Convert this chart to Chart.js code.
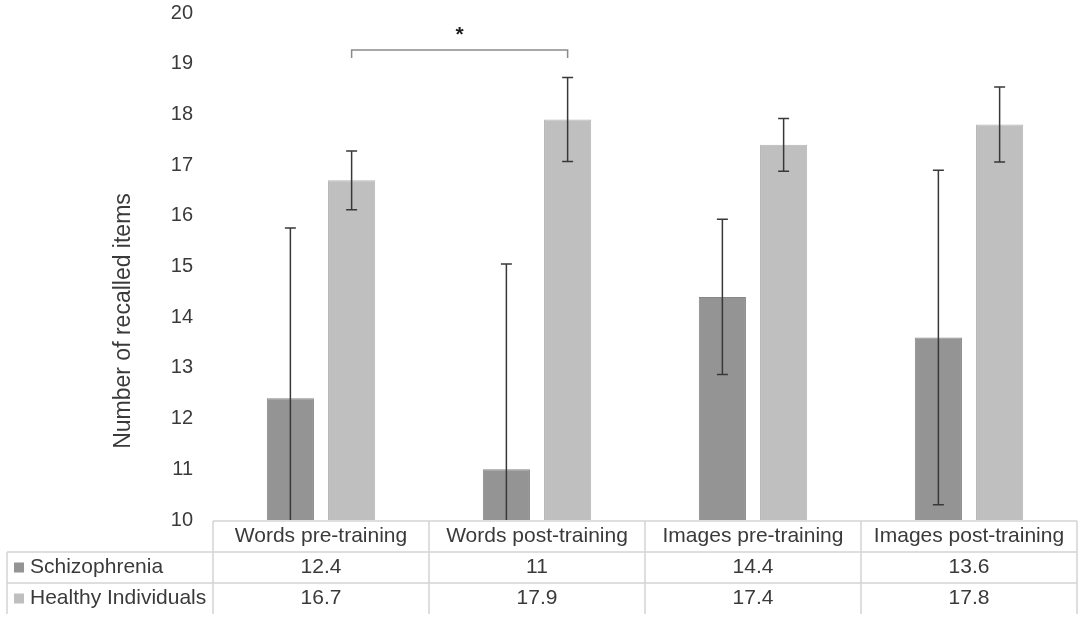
<!DOCTYPE html>
<html>
<head>
<meta charset="utf-8">
<title>Number of recalled items</title>
<script src="https://cdn.jsdelivr.net/npm/chart.js"></script>
<style>
  html, body { margin: 0; padding: 0; background: #fff; }
  #wrap { width: 1084px; height: 623px; }
</style>
</head>
<body>
<div id="wrap"><canvas id="chart" width="1084" height="623"></canvas></div>
<script>
// chart data
const categories = ['Words pre-training', 'Words post-training', 'Images pre-training', 'Images post-training'];
const seriesNames = ['Schizophrenia', 'Healthy Individuals'];
const schizophrenia = [12.4, 11, 14.4, 13.6];
const healthy = [16.7, 17.9, 17.4, 17.8];
// error bar half-widths
const schizophreniaErr = [3.36, 4.05, 1.53, 3.3];
const healthyErr = [0.58, 0.83, 0.52, 0.74];
const yTicks = [10, 11, 12, 13, 14, 15, 16, 17, 18, 19, 20];
// significance bracket between two categories of one series
const sigPairs = [{ series: 1, from: 0, to: 1, level: 19.27, label: '*' }];

const FONT = '"Liberation Sans", Arial, sans-serif';
const TEXT = '#3a3a3a';
const fills = ['#949494', '#bfbfbf'];
const borders = ['#878787', '#b4b4b4'];
const errors = [schizophreniaErr, healthyErr];

// error bars drawn on top of the bars
const errorBars = {
  id: 'errorBars',
  afterDatasetsDraw(chart) {
    const ctx = chart.ctx;
    const y = chart.scales.y;
    const area = chart.chartArea;
    ctx.save();
    ctx.beginPath();
    ctx.rect(area.left, area.top - 20, area.right - area.left, area.bottom - area.top + 20);
    ctx.clip();
    ctx.strokeStyle = '#383838';
    ctx.lineWidth = 1.5;
    chart.data.datasets.forEach((ds, di) => {
      const meta = chart.getDatasetMeta(di);
      meta.data.forEach((bar, i) => {
        const v = ds.data[i];
        const e = errors[di][i];
        const top = y.getPixelForValue(v + e);
        const bot = y.getPixelForValue(v - e);
        ctx.beginPath();
        ctx.moveTo(bar.x, top);
        ctx.lineTo(bar.x, bot);
        ctx.moveTo(bar.x - 5.5, top);
        ctx.lineTo(bar.x + 5.5, top);
        if (v - e >= y.min) {
          ctx.moveTo(bar.x - 5.5, bot);
          ctx.lineTo(bar.x + 5.5, bot);
        }
        ctx.stroke();
      });
    });
    ctx.restore();
  }
};

// tick labels, bracket + asterisk, axis title, and the data table under the plot
const extras = {
  id: 'extras',
  afterDraw(chart) {
    const ctx = chart.ctx;
    const y = chart.scales.y;
    const area = chart.chartArea;
    ctx.save();

    // y tick labels
    ctx.fillStyle = TEXT;
    ctx.font = '20px ' + FONT;
    ctx.textAlign = 'right';
    ctx.textBaseline = 'middle';
    yTicks.forEach(t => ctx.fillText(String(t), area.left - 20, y.getPixelForValue(t)));

    sigPairs.forEach(p => {
      const meta = chart.getDatasetMeta(p.series);
      const x1 = meta.data[p.from].x;
      const x2 = meta.data[p.to].x;
      const yl = y.getPixelForValue(p.level);
      ctx.strokeStyle = '#8a8a8a';
      ctx.lineWidth = 1.5;
      ctx.beginPath();
      ctx.moveTo(x1, yl + 8);
      ctx.lineTo(x1, yl);
      ctx.lineTo(x2, yl);
      ctx.lineTo(x2, yl + 8);
      ctx.stroke();
      ctx.fillStyle = '#1e1e1e';
      ctx.font = 'bold 21px ' + FONT;
      ctx.textAlign = 'center';
      ctx.textBaseline = 'middle';
      ctx.fillText(p.label, (x1 + x2) / 2, yl - 15);
    });

    // y axis title (sits a little below the middle, as in the original)
    ctx.save();
    ctx.translate(124, 321);
    ctx.rotate(-Math.PI / 2);
    ctx.fillStyle = TEXT;
    ctx.font = '23px ' + FONT;
    ctx.textAlign = 'center';
    ctx.textBaseline = 'middle';
    ctx.fillText('Number of recalled items', 0, 0);
    ctx.restore();

    // data table
    const n = categories.length;
    const w = (area.right - area.left) / n;
    const t0 = area.bottom + 1;
    const rowH = 31;
    const rows = [t0, t0 + rowH, t0 + 2 * rowH, t0 + 3 * rowH];
    const tableLeft = 7;
    ctx.strokeStyle = '#d4d4d4';
    ctx.lineWidth = 1.5;
    ctx.beginPath();
    ctx.moveTo(area.left, rows[0]);
    ctx.lineTo(area.right, rows[0]);
    ctx.moveTo(tableLeft, rows[1]);
    ctx.lineTo(area.right, rows[1]);
    ctx.moveTo(tableLeft, rows[2]);
    ctx.lineTo(area.right, rows[2]);
    ctx.moveTo(tableLeft, rows[1]);
    ctx.lineTo(tableLeft, rows[3]);
    for (let i = 0; i <= n; i++) {
      const x = area.left + i * w;
      ctx.moveTo(x, rows[0]);
      ctx.lineTo(x, rows[3]);
    }
    ctx.stroke();

    ctx.fillStyle = TEXT;
    ctx.font = '21px ' + FONT;
    ctx.textAlign = 'center';
    ctx.textBaseline = 'middle';
    categories.forEach((c, i) => {
      const cx = area.left + (i + 0.5) * w;
      ctx.fillText(c, cx, rows[0] + rowH / 2);
      ctx.fillText(String(schizophrenia[i]), cx, rows[1] + rowH / 2);
      ctx.fillText(String(healthy[i]), cx, rows[2] + rowH / 2);
    });
    ctx.textAlign = 'left';
    seriesNames.forEach((s, i) => {
      const cy = rows[i + 1] + rowH / 2;
      ctx.fillStyle = fills[i];
      ctx.fillRect(14, cy - 5, 10, 10);
      ctx.fillStyle = TEXT;
      ctx.fillText(s, 30, cy);
    });

    ctx.restore();
  }
};

new Chart(document.getElementById('chart'), {
  type: 'bar',
  data: {
    labels: categories,
    datasets: [
      { label: seriesNames[0], data: schizophrenia, backgroundColor: fills[0], borderColor: borders[0], borderWidth: 1 },
      { label: seriesNames[1], data: healthy, backgroundColor: fills[1], borderColor: borders[1], borderWidth: 1 }
    ]
  },
  options: {
    responsive: false,
    animation: false,
    devicePixelRatio: 1,
    categoryPercentage: 0.567,
    barPercentage: 0.77,
    layout: { padding: { left: 0, right: 7, top: 13, bottom: 103 } },
    plugins: { legend: { display: false }, tooltip: { enabled: false } },
    scales: {
      x: { display: false },
      y: {
        min: 10,
        max: 20,
        afterBuildTicks(scale) { scale.ticks = yTicks.map(v => ({ value: v })); },
        afterFit(scale) { scale.width = 213; },
        grid: { display: false, drawTicks: false },
        border: { display: false },
        ticks: { display: false }
      }
    }
  },
  plugins: [errorBars, extras]
});
</script>
</body>
</html>
